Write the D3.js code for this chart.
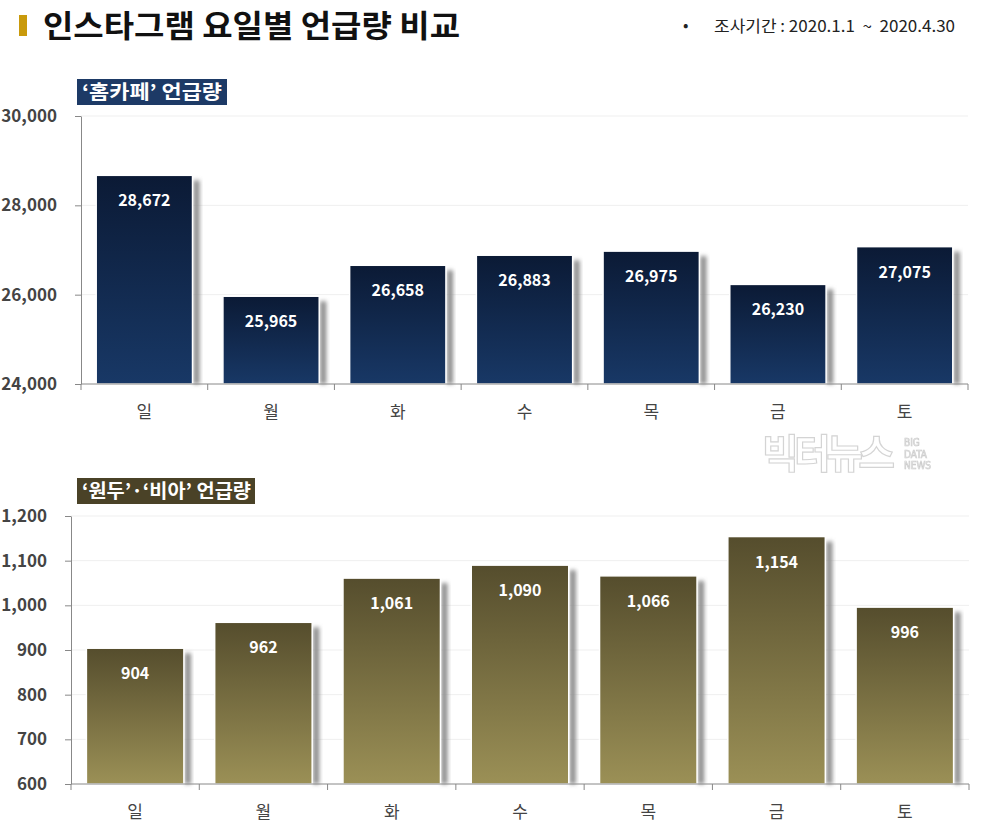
<!DOCTYPE html>
<html><head><meta charset="utf-8">
<script src="https://cdn.jsdelivr.net/npm/d3@7"></script>
<style>
body{margin:0;background:#fff;}
svg{display:block;font-family:"Noto Sans CJK KR","Noto Sans",sans-serif;}
</style></head>
<body>
<svg id="c" width="982" height="826"></svg>
<script>
const days = ["일","월","화","수","목","금","토"];
const homeCafe = [28672,25965,26658,26883,26975,26230,27075];
const homeCafeTicks = [24000,26000,28000,30000];
const beans = [904,962,1061,1090,1066,1154,996];
const beansTicks = [600,700,800,900,1000,1100,1200];

const svg = d3.select("#c");
const defs = svg.append("defs");
function grad(id, top, bottom){
  const g = defs.append("linearGradient").attr("id",id).attr("x1",0).attr("y1",0).attr("x2",0).attr("y2",1);
  g.append("stop").attr("offset","0%").attr("stop-color",top);
  g.append("stop").attr("offset","100%").attr("stop-color",bottom);
}
grad("gNavy","#0b1a35","#183866");
grad("gOlive","#554d2d","#9b9056");
const f = defs.append("filter").attr("id","blur").attr("x","-50%").attr("y","-10%").attr("width","200%").attr("height","120%");
f.append("feGaussianBlur").attr("stdDeviation",2.2);

// Title
svg.append("rect").attr("x",19).attr("y",15).attr("width",8).attr("height",21).attr("fill","#c99a0c");
svg.append("text").attr("x",43).attr("y",37).attr("font-size",31).attr("font-weight",700).attr("fill","#111")
  .attr("textLength",417).attr("lengthAdjust","spacingAndGlyphs").text("인스타그램 요일별 언급량 비교");
svg.append("text").attr("x",683).attr("y",31).attr("font-size",16).attr("fill","#222").text("•");
svg.append("text").attr("x",714).attr("y",32).attr("font-size",16).attr("fill","#222").attr("xml:space","preserve")
  .attr("textLength",241).attr("lengthAdjust","spacingAndGlyphs").text("조사기간 : 2020.1.1  ~  2020.4.30");

// Watermark
const wm = svg.append("g").attr("opacity",0.9);
wm.append("text").attr("x",762).attr("y",468).attr("font-size",40).attr("font-weight",700).attr("fill","#fff").attr("stroke","#d0d0d0").attr("stroke-width",1.2).attr("textLength",133).text("빅터뉴스");
["BIG","DATA","NEWS"].forEach((t,i)=>{
  wm.append("text").attr("x",904).attr("y",446+i*11.5).attr("font-size",10).attr("font-family","'DejaVu Sans Condensed','DejaVu Sans',sans-serif")
    .attr("fill","#fff").attr("stroke","#c8c8c8").attr("stroke-width",0.7).text(t);
});

function chart(opts){
  const {data, ticks, domain, x0, x1, yTop, yBot, gradId, label, labelBg, labelW, labelTextW, labelY} = opts;
  const g = svg.append("g");
  const x = d3.scaleBand().domain(days).range([x0,x1]).paddingInner(0.24).paddingOuter(0.12);
  const y = d3.scaleLinear().domain(domain).range([yBot,yTop]);
  // gridlines
  g.append("g").selectAll("line").data(ticks.slice(1)).join("line")
    .attr("x1",x0).attr("x2",x1).attr("y1",d=>y(d)).attr("y2",d=>y(d))
    .attr("stroke","#efefef").attr("stroke-width",1);
  // shadows
  g.append("g").selectAll("rect").data(data).join("rect")
    .attr("x",(d,i)=>x(days[i])+x.bandwidth()+1).attr("y",d=>y(d)+5)
    .attr("width",6).attr("height",d=>yBot-y(d)-5)
    .attr("fill","#8a8a8a").attr("filter","url(#blur)");
  // bars
  g.append("g").selectAll("rect").data(data).join("rect")
    .attr("x",(d,i)=>x(days[i])).attr("y",d=>y(d))
    .attr("width",x.bandwidth()).attr("height",d=>yBot-y(d))
    .attr("fill",`url(#${gradId})`).attr("stroke","#fff").attr("stroke-width",1.5);
  // values
  g.append("g").selectAll("text").data(data).join("text")
    .attr("x",(d,i)=>x(days[i])+x.bandwidth()/2).attr("y",d=>y(d)+31)
    .attr("text-anchor","middle").attr("font-size",16).attr("font-weight",700).attr("fill","#fff")
    .text(d=>d3.format(",")(d));
  // y axis
  const ya = g.append("g").attr("transform",`translate(${x0},0)`)
    .call(d3.axisLeft(y).tickValues(ticks).tickFormat(d3.format(",")).tickSize(6).tickSizeOuter(0));
  ya.select(".domain").attr("stroke","#888");
  ya.selectAll(".tick line").attr("stroke","#888");
  ya.selectAll(".tick text").attr("font-size",17).attr("font-weight",700).attr("fill","#444")
    .attr("font-family","'Noto Sans CJK KR',sans-serif").attr("x",-24);
  // x axis
  const xa = g.append("g").attr("transform",`translate(0,${yBot})`);
  xa.append("line").attr("x1",x0).attr("x2",x1).attr("stroke","#888");
  const bounds = d3.range(8).map(i=>x0 + i*(x1-x0)/7);
  xa.selectAll("line.tk").data(bounds).join("line").attr("class","tk")
    .attr("x1",d=>d).attr("x2",d=>d).attr("y1",0).attr("y2",6).attr("stroke","#888");
  xa.selectAll("text").data(days).join("text")
    .attr("x",d=>x(d)+x.bandwidth()/2).attr("y",34).attr("text-anchor","middle")
    .attr("font-size",17).attr("fill","#444").text(d=>d);
  // label box
  svg.append("rect").attr("x",77).attr("y",labelY).attr("width",labelW).attr("height",26).attr("fill",labelBg);
  svg.append("text").attr("x",82).attr("y",labelY+20).attr("font-size",19).attr("font-weight",700).attr("fill","#fff")
    .attr("textLength",labelTextW).attr("lengthAdjust","spacingAndGlyphs").text(label);
}

chart({data:homeCafe, ticks:homeCafeTicks, domain:[24000,30000], x0:81, x1:968, yTop:116, yBot:384,
  gradId:"gNavy", label:"‘홈카페’ 언급량", labelBg:"#1d3a66", labelW:150, labelTextW:140, labelY:79});
chart({data:beans, ticks:beansTicks, domain:[600,1200], x0:71, x1:969, yTop:516, yBot:784,
  gradId:"gOlive", label:"‘원두’·‘비아’ 언급량", labelBg:"#4a4227", labelW:178, labelTextW:169, labelY:478});
</script>
</body></html>
